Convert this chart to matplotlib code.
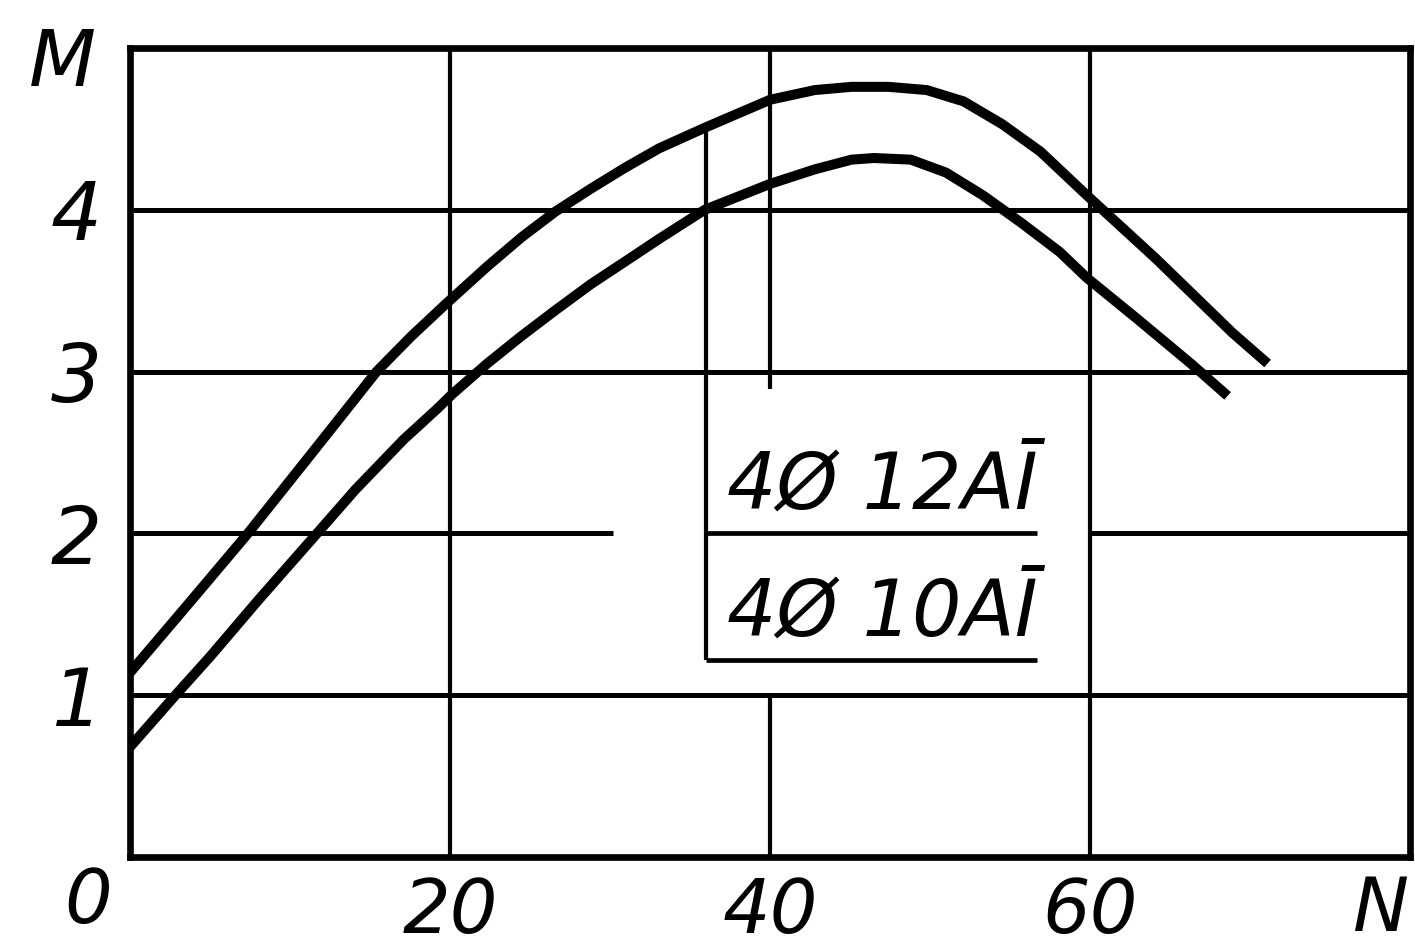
import matplotlib.pyplot as plt

# curves: N (x) vs M (y)
N_12 = [0, 3.7, 7.37, 11.4, 15.41, 17.6, 19.76, 22.33, 24.47, 26.6, 28.8, 30.94,
        33.07, 35.99, 40.0, 42.8, 45.1, 47.4, 49.8, 52.1, 54.5, 56.9, 59.8,
        64.1, 68.9, 71.1]
M_12 = [1.14, 1.57, 2.0, 2.5, 3.0, 3.22, 3.42, 3.65, 3.83, 3.99, 4.13, 4.26,
        4.38, 4.51, 4.68, 4.74, 4.76, 4.76, 4.74, 4.67, 4.53, 4.36, 4.09,
        3.70, 3.24, 3.05]

N_10 = [0, 2.84, 5.02, 8.04, 11.6, 14.08, 17.1, 19.2, 20.13, 22.33, 24.47, 26.6,
        28.8, 30.94, 33.07, 35.92, 40.0, 42.8, 45.1, 46.5, 48.8, 51.0, 53.3,
        55.7, 58.1, 59.8, 62.9, 66.3, 68.6]
M_10 = [0.68, 1.0, 1.24, 1.59, 1.99, 2.27, 2.58, 2.77, 2.86, 3.05, 3.22, 3.38,
        3.54, 3.68, 3.82, 4.0, 4.16, 4.25, 4.31, 4.32, 4.31, 4.23, 4.09,
        3.92, 3.74, 3.58, 3.33, 3.05, 2.85]

labels = ["4Ø 12AĪ", "4Ø 10AĪ"]
xticks = [20, 40, 60]
yticks = [1, 2, 3, 4]

# grid segments as drawn on the original (some lines are interrupted by the label box)
hgrid = [(1, 0, 80), (2, 0, 30.2), (2, 60, 80), (3, 0, 80), (4, 0, 80)]
vgrid = [(20, 0, 5), (40, 2.89, 5), (40, 0, 1), (60, 0, 5)]
box_x = [35.99, 56.7]
box_lines = [2.0, 1.22]

FONT = ['DejaVu Sans']

fig = plt.figure(figsize=(14.15, 9.49), dpi=100)
ax = fig.add_axes([130 / 1415, 92 / 949, 1280 / 1415, 809 / 949])
ax.set_xlim(0, 80)
ax.set_ylim(0, 5)

for y, x0, x1 in hgrid:
    ax.plot([x0, x1], [y, y], color='black', lw=3.6, solid_capstyle='butt', zorder=1)
for x, y0, y1 in vgrid:
    ax.plot([x, x], [y0, y1], color='black', lw=3.0, solid_capstyle='butt', zorder=1)

# label box
i_top = N_12.index(box_x[0])
ax.plot([box_x[0], box_x[0]], [M_12[i_top], box_lines[1]], color='black', lw=3.0,
        solid_capstyle='butt', zorder=1)
for y in box_lines:
    ax.plot(box_x, [y, y], color='black', lw=3.4, solid_capstyle='butt', zorder=1)

ax.plot(N_12, M_12, color='black', lw=7.2, solid_capstyle='butt',
        solid_joinstyle='round', zorder=3)
ax.plot(N_10, M_10, color='black', lw=7.2, solid_capstyle='butt',
        solid_joinstyle='round', zorder=3)

ax.text(37.3, 2.15, labels[0], ha='left', va='baseline', fontsize=56,
        style='italic', family=FONT)
ax.text(37.3, 1.36, labels[1], ha='left', va='baseline', fontsize=56,
        style='italic', family=FONT)

for s in ax.spines.values():
    s.set_linewidth(4.8)
    s.set_color('black')

ax.set_xticks(xticks)
ax.set_xticklabels([str(t) for t in xticks], fontsize=54, style='italic', family=FONT)
ax.set_yticks(yticks)
ax.set_yticklabels([str(t) for t in yticks], fontsize=58, style='italic', family=FONT)
ax.tick_params(axis='x', length=0, pad=14)
ax.tick_params(axis='y', length=0, pad=20)

ax.text(-2.6, -0.28, '0', ha='center', va='center', fontsize=54, style='italic',
        family=FONT, clip_on=False)
ax.text(78.2, -0.33, 'N', ha='center', va='center', fontsize=54, style='italic',
        family=FONT, clip_on=False)
ax.text(-4.2, 4.9, 'M', ha='center', va='center', fontsize=56, style='italic',
        family=FONT, clip_on=False)

fig.savefig('out.png', dpi=100)
